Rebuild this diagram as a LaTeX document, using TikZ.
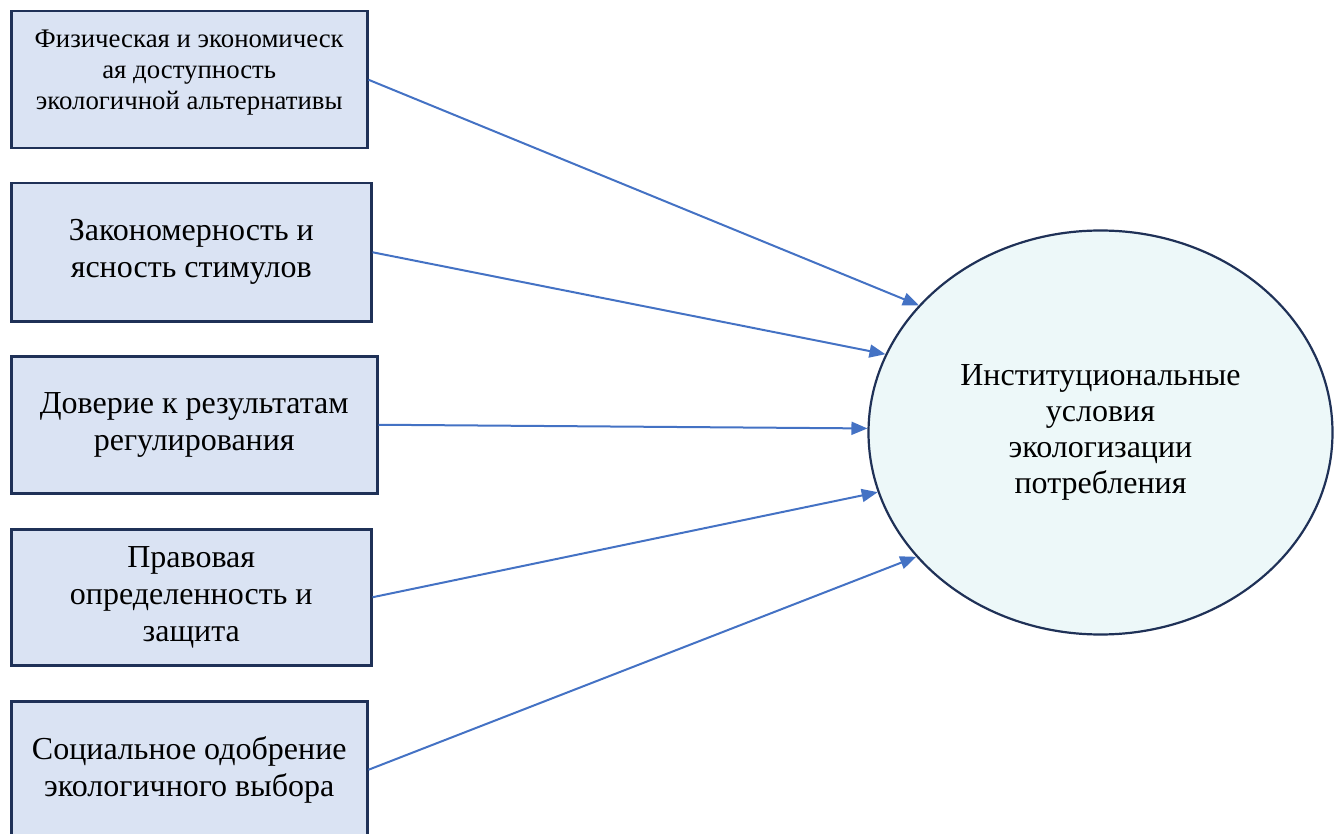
\documentclass[tikz,border=0pt]{standalone}
\usepackage{fontspec}
\setmainfont{Liberation Serif}
\usepackage{tikz}
\usetikzlibrary{arrows.meta,shapes.geometric}
\definecolor{boxfill}{HTML}{DAE3F3}
\definecolor{boxline}{HTML}{1F3157}
\definecolor{ellfill}{HTML}{EDF8F9}
\definecolor{arrowblue}{HTML}{4472C4}
\tikzset{
    factor/.style={
           rectangle,
           draw=boxline, line width=2.5pt,
           fill=boxfill,
           anchor=north west,
           align=center,
           inner sep=2pt,
           font=\fontsize{32}{37}\selectfont,
           },
    target/.style={
           ellipse,
           draw=boxline, line width=2.2pt,
           fill=ellfill,
           minimum width=464pt,
           minimum height=404pt,
           inner sep=0pt,
           align=center,
           font=\fontsize{32}{36}\selectfont,
           },
    link/.style={
           -{Triangle[length=16pt,width=13pt]},
           color=arrowblue,
           line width=2pt,
           },
}

\begin{document}
\begin{tikzpicture}[x=1pt,y=-1pt]
        \clip (0,0) rectangle (1343,834);
        % Factor: availability
        \node[factor,
            minimum width=356pt,
            minimum height=137pt,
            font=\fontsize{26.8}{31}\selectfont] (F_ACCESS) at (10,10)
        {Физическая и экономическ\\ая доступность\\экологичной альтернативы\\[-11pt]\mbox{}};

        % Factor: stimuli
        \node[factor,
            minimum width=360pt,
            minimum height=138pt] (F_STIMULI) at (10,182)
        {Закономерность и\\ясность стимулов};

        % Factor: trust
        \node[factor,
            minimum width=366pt,
            minimum height=137pt] (F_TRUST) at (10,355)
        {Доверие к результатам\\регулирования};

        % Factor: law
        \node[factor,
            minimum width=360pt,
            minimum height=136pt] (F_LAW) at (10,528)
        {Правовая\\определенность и\\защита};

        % Factor: social approval (cut at the bottom)
        \node[factor,
            minimum width=356pt,
            minimum height=137pt] (F_SOCIAL) at (10,700)
        {Социальное одобрение\\экологичного выбора};

        % Target ellipse
        \node[target] (COND) at (1100.5,432.5)
        {Институциональные\\условия\\экологизации\\потребления};

        % draw the arrows from every factor to the ellipse
        \draw[link] (F_ACCESS.east)  -- (COND.145);
        \draw[link] (F_STIMULI.east) -- (COND.160);
        \draw[link] (F_TRUST.east)   -- (COND.179);
        \draw[link] (F_LAW.east)     -- (COND.195);
        \draw[link] (F_SOCIAL.east)  -- (COND.214);

\end{tikzpicture}
\end{document}
